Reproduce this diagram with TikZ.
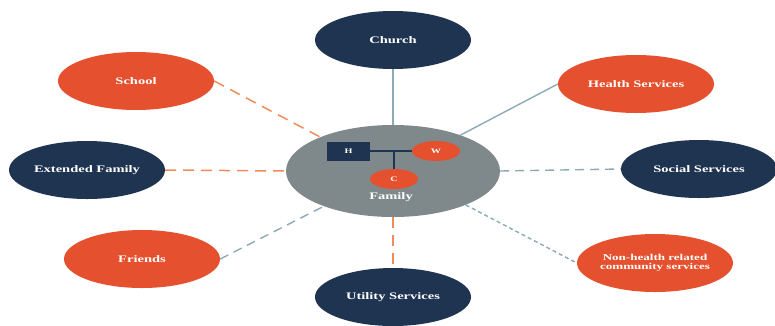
\documentclass[tikz,border=0pt]{standalone}
\usepackage{fontspec}
\setmainfont{Liberation Serif}[FakeStretch=1.45]
\usetikzlibrary{shapes.geometric}
\definecolor{navy}{HTML}{1F3451}
\definecolor{tomato}{HTML}{E5502E}
\definecolor{famgrey}{HTML}{7F898B}
\definecolor{linkblue}{HTML}{8CAAB5}
\definecolor{linkorange}{HTML}{F28B5B}
\tikzset{
  bubble/.style={ellipse, minimum width=156pt, minimum height=58pt, inner sep=0pt,
    text=white, font=\fontsize{10}{11}\selectfont\bfseries, align=center},
  navybub/.style={bubble, fill=navy},
  orangebub/.style={bubble, fill=tomato},
  smallbub/.style={ellipse, fill=tomato, minimum width=48pt, minimum height=20pt, inner sep=0pt,
    text=white, font=\fontsize{7}{8}\selectfont\bfseries},
  solidlink/.style={draw=linkblue, line width=1.4pt},
  bluedash/.style={draw=linkblue, line width=1.4pt, dash pattern=on 9pt off 6pt},
  bluedot/.style={draw=linkblue, line width=1.4pt, dash pattern=on 4pt off 3pt},
  orangedash/.style={draw=linkorange, line width=1.5pt, dash pattern=on 11pt off 7pt},
  famline/.style={draw=navy, line width=1.6pt}
}
\begin{document}
\begin{tikzpicture}[x=1pt,y=-1pt]
\useasboundingbox (0,0) rectangle (775,325);
\node[ellipse, fill=famgrey, minimum width=214pt, minimum height=92pt, inner sep=0pt] (main) at (393,171) {};
\node[navybub] (church) at (393,40) {Church};
\node[navybub] (utility) at (393,297) {Utility Services};
\node[orangebub] (school) at (136,81) {School};
\node[navybub] (ext) at (87,170) {Extended Family};
\node[orangebub] (friends) at (142,259) {Friends};
\node[orangebub] (health) at (636,84) {Health Services};
\node[navybub] (social) at (699,169) {Social Services};
\node[orangebub, font=\fontsize{9}{9.5}\selectfont\bfseries] (nonhealth) at (655,263) {Non-health related\\community services};
% family members
\node[rectangle, fill=navy, minimum width=43pt, minimum height=19pt, inner sep=0pt,
  text=white, font=\fontsize{7}{8}\selectfont\bfseries] (h) at (348.5,151) {H};
\node[smallbub] (w) at (436,151) {W};
\node[smallbub] (c) at (394,179) {C};
\coordinate (hw) at (394,151);
\node[text=white, font=\fontsize{10}{11}\selectfont\bfseries] (fam) at (391,197) {Family};
\draw[famline] (h.east) -- (w.west);
\draw[famline] (hw) -- (c.north);
% connectors
\draw[solidlink] (church.south) -- (main.north);
\draw[orangedash] (main.south) -- (utility.north);
\draw[orangedash] (school.east) -- (main.155);
\draw[orangedash] (ext.east) -- (main.west);
\draw[bluedash] (friends.east) -- (main.207);
\draw[solidlink] (health.west) -- (main.28);
\draw[bluedash] (main.east) -- (social.west);
\draw[bluedot] (main.335) -- (nonhealth.west);
\end{tikzpicture}
\end{document}
